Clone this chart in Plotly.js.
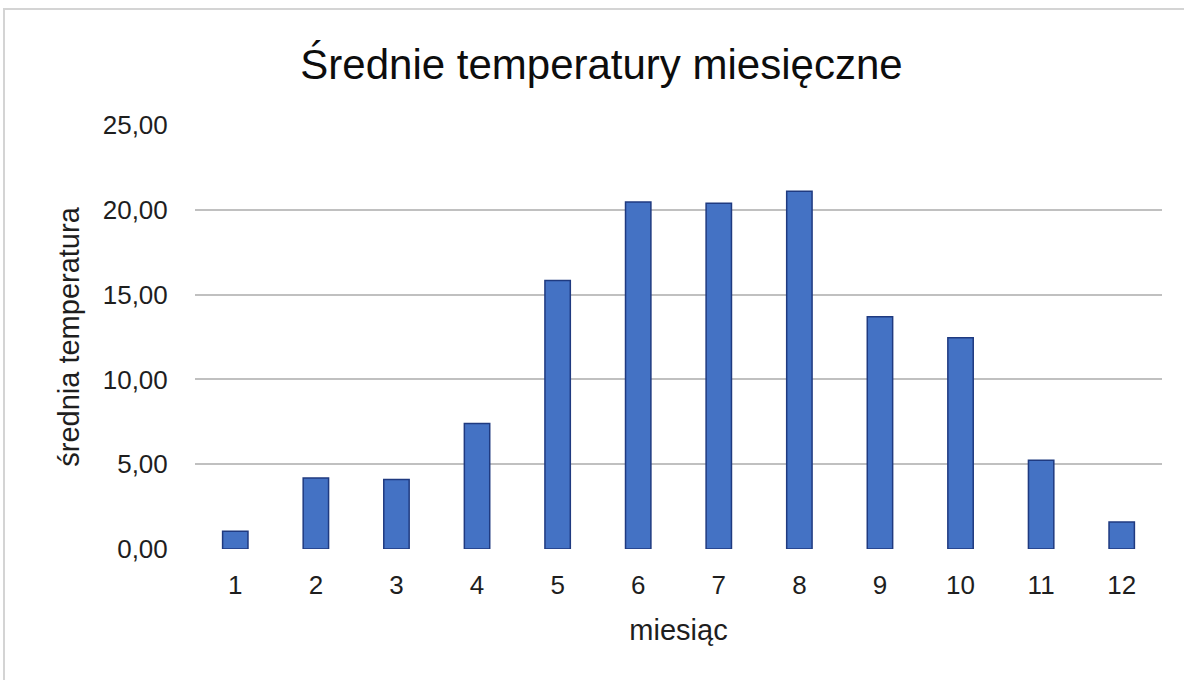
<!DOCTYPE html>
<html>
<head>
<meta charset="utf-8">
<script src="https://cdn.plot.ly/plotly-3.0.1.min.js"></script>
<style>
  html, body { margin: 0; padding: 0; background: #fff; overflow: hidden; }
  #frame { position: absolute; left: 3px; top: 8px; width: 1300px; height: 800px; border-left: 2px solid #d4d4d4; border-top: 2px solid #d4d4d4; }
  #chart { position: absolute; left: 0; top: 0; width: 1184px; height: 680px; }
</style>
</head>
<body>
<div id="frame"></div>
<div id="chart"></div>
<script>
const months = ['1','2','3','4','5','6','7','8','9','10','11','12'];
const avgTemp = [1.05, 4.18, 4.10, 7.40, 15.83, 20.46, 20.38, 21.09, 13.70, 12.46, 5.24, 1.59];
const yTicks = [0, 5, 10, 15, 20, 25];

const FONT = 'Liberation Sans, Arial, sans-serif';
const TXT = '#1e1e1e';

Plotly.newPlot('chart', [{
  type: 'bar',
  x: months,
  y: avgTemp,
  marker: { color: '#4472c4', line: { color: '#1f3a80', width: 1.5 } },
  hoverinfo: 'x+y'
}], {
  width: 1184, height: 680,
  margin: { l: 195, r: 22, t: 125, b: 131 },
  paper_bgcolor: 'rgba(0,0,0,0)',
  plot_bgcolor: 'rgba(0,0,0,0)',
  separators: ', ',
  bargap: 0.685,
  showlegend: false,
  font: { family: FONT, color: TXT },
  title: {
    text: 'Średnie temperatury miesięczne',
    font: { family: FONT, size: 42, color: '#0d0d0d' },
    x: 0.508, xanchor: 'center', y: 0.905, yanchor: 'middle', yref: 'container'
  },
  xaxis: {
    type: 'category',
    showgrid: false, zeroline: false, showline: false,
    ticks: 'outside', ticklen: 13, tickcolor: 'rgba(0,0,0,0)',
    tickfont: { size: 26, family: FONT, color: TXT },
    title: { text: 'miesiąc', font: { size: 29, family: FONT, color: TXT }, standoff: 20 }
  },
  yaxis: {
    range: [0, 25], tickvals: yTicks, tickformat: '.2f',
    showgrid: true, gridcolor: '#c0c0c0', gridwidth: 1.5,
    zeroline: false, showline: false,
    ticks: 'outside', ticklen: 21, tickcolor: 'rgba(0,0,0,0)',
    tickfont: { size: 26, family: FONT, color: TXT },
    title: { text: 'średnia temperatura', font: { size: 29, family: FONT, color: TXT }, standoff: 14 }
  }
}, { displayModeBar: false });
</script>
</body>
</html>
